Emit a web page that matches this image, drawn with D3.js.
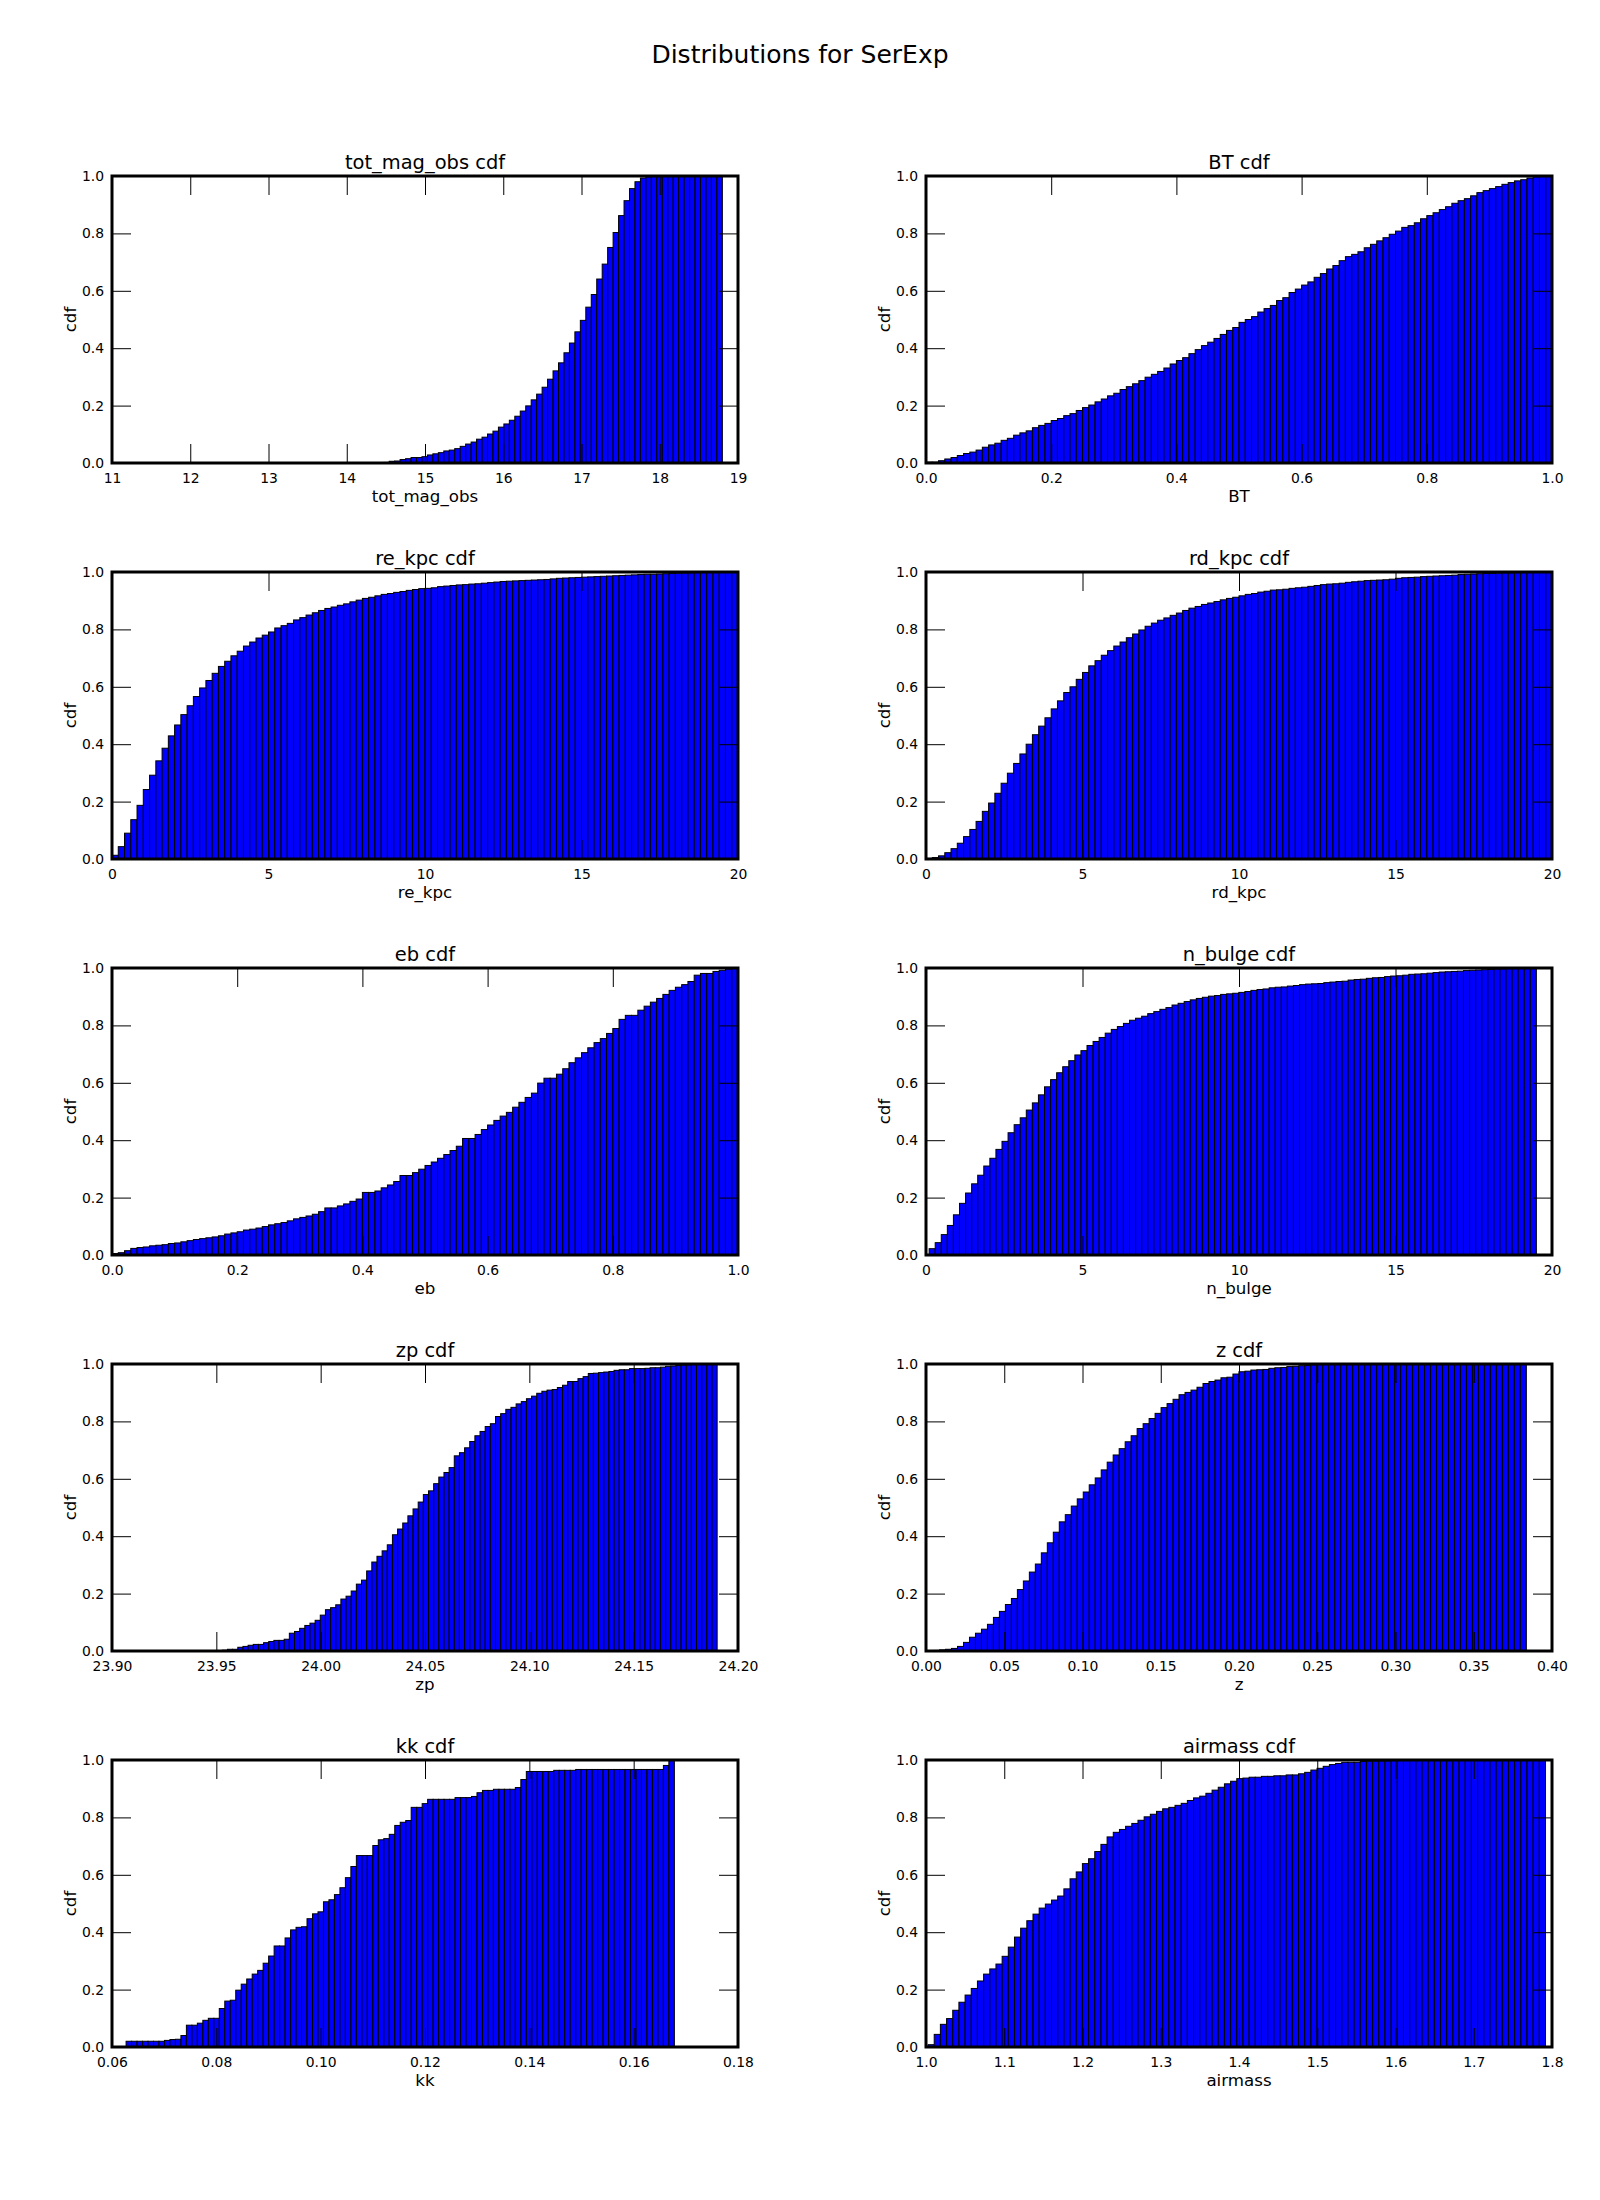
<!DOCTYPE html>
<html>
<head>
<meta charset="utf-8">
<script src="https://cdn.jsdelivr.net/npm/d3@7/dist/d3.min.js"></script>
<style>
  html, body { margin: 0; padding: 0; background: #ffffff; }
  svg { display: block; font-family: "DejaVu Sans", sans-serif; }
</style>
</head>
<body>
<svg id="chart" width="1600" height="2200"></svg>
<script>
// ---------------- DATA ----------------
const figureTitle = "Distributions for SerExp";
const variables = ["tot_mag_obs", "BT", "re_kpc", "rd_kpc", "eb", "n_bulge", "zp", "z", "kk", "airmass"];
const yLabel = "cdf";

// data range covered by the 100 histogram bins of each variable
const binStart = [11.82, 0.0, 0.0, 0.0, 0.0, 0.1, 23.943, 0.001, 0.0627, 1.0026];
const binEnd   = [18.80, 1.0, 20.0, 20.0, 1.0, 19.5, 24.19, 0.3836, 0.1678, 1.7917];

// x axis limits
const xDomains = [[11, 19], [0, 1], [0, 20], [0, 20], [0, 1], [0, 20], [23.90, 24.20], [0, 0.40], [0.06, 0.18], [1.0, 1.8]];

// tick labels
const xTickLabels = [
  ["11", "12", "13", "14", "15", "16", "17", "18", "19"],
  ["0.0", "0.2", "0.4", "0.6", "0.8", "1.0"],
  ["0", "5", "10", "15", "20"],
  ["0", "5", "10", "15", "20"],
  ["0.0", "0.2", "0.4", "0.6", "0.8", "1.0"],
  ["0", "5", "10", "15", "20"],
  ["23.90", "23.95", "24.00", "24.05", "24.10", "24.15", "24.20"],
  ["0.00", "0.05", "0.10", "0.15", "0.20", "0.25", "0.30", "0.35", "0.40"],
  ["0.06", "0.08", "0.10", "0.12", "0.14", "0.16", "0.18"],
  ["1.0", "1.1", "1.2", "1.3", "1.4", "1.5", "1.6", "1.7", "1.8"]
];
const yTickLabels = ["0.0", "0.2", "0.4", "0.6", "0.8", "1.0"];

// cumulative normalised histogram values (100 bins each)
const totMagObsCdf = [
  0,0,0,0,0,0,0,0,0,0, 0,0,0,0,0,0,0,0,0,0, 0,0,0,0,0,0,0,0,0,0, 0,0,0,0,0,0,0,0.001,0.002,
  0.006,0.007,0.012,0.015,0.019,0.019,0.022,0.028,0.032,0.036,
  0.042,0.045,0.050,0.058,0.066,0.073,0.083,0.090,0.101,0.111,
  0.125,0.136,0.149,0.163,0.181,0.199,0.220,0.240,0.264,0.292,
  0.321,0.349,0.384,0.418,0.457,0.497,0.543,0.587,0.641,0.693,
  0.751,0.803,0.862,0.914,0.956,0.980,0.993,0.997,
  0.998,0.998,0.999,0.999,0.999,1,1,1,1,1,1,1,1
];
const btCdf = [
  0.003,0.003,0.008,0.014,0.019,0.026,0.033,0.038,0.045,0.055,
  0.063,0.069,0.079,0.086,0.097,0.105,0.112,0.123,0.131,0.138,
  0.148,0.155,0.165,0.172,0.183,0.193,0.202,0.213,0.223,0.234,
  0.243,0.256,0.266,0.276,0.287,0.299,0.309,0.319,0.331,0.345,
  0.357,0.367,0.381,0.395,0.409,0.421,0.434,0.448,0.462,0.472,
  0.490,0.500,0.510,0.526,0.538,0.549,0.566,0.576,0.594,0.606,
  0.620,0.631,0.647,0.660,0.676,0.688,0.705,0.719,0.727,0.736,
  0.750,0.762,0.774,0.785,0.797,0.808,0.821,0.827,0.837,0.851,
  0.862,0.872,0.883,0.893,0.905,0.914,0.921,0.931,0.942,0.949,
  0.956,0.963,0.971,0.977,0.983,0.987,0.993,0.997,0.998,1.0
];
const reKpcCdf = [
  0.013,0.043,0.090,0.137,0.187,0.242,0.292,0.342,0.386,0.429,
  0.467,0.503,0.534,0.566,0.596,0.622,0.647,0.671,0.689,0.708,
  0.724,0.742,0.756,0.770,0.780,0.791,0.805,0.813,0.821,0.833,
  0.841,0.850,0.858,0.866,0.873,0.878,0.884,0.889,0.896,0.902,
  0.908,0.912,0.917,0.922,0.925,0.929,0.932,0.936,0.939,0.942,
  0.943,0.945,0.949,0.951,0.953,0.955,0.956,0.958,0.959,0.961,
  0.963,0.965,0.967,0.968,0.969,0.970,0.971,0.972,0.973,0.974,
  0.976,0.978,0.979,0.980,0.981,0.982,0.983,0.984,0.985,0.986,
  0.987,0.988,0.989,0.990,0.991,0.992,0.992,0.993,0.994,0.995,
  0.996,0.996,0.997,0.998,0.998,0.999,0.999,1.0,1.0,1.0
];
const rdKpcCdf = [
  0.002,0.005,0.011,0.022,0.036,0.055,0.078,0.103,0.131,0.166,
  0.195,0.229,0.264,0.299,0.333,0.366,0.400,0.433,0.463,0.492,
  0.523,0.551,0.580,0.600,0.626,0.650,0.673,0.691,0.710,0.726,
  0.742,0.756,0.771,0.784,0.798,0.811,0.822,0.832,0.840,0.849,
  0.857,0.866,0.874,0.880,0.887,0.892,0.897,0.903,0.908,0.912,
  0.917,0.922,0.925,0.930,0.933,0.937,0.938,0.940,0.943,0.945,
  0.947,0.950,0.953,0.956,0.958,0.959,0.961,0.964,0.966,0.968,
  0.970,0.971,0.972,0.973,0.975,0.978,0.980,0.981,0.982,0.984,
  0.985,0.986,0.987,0.988,0.989,0.991,0.992,0.993,0.994,0.995,
  0.995,0.996,0.997,0.997,0.998,0.998,0.999,0.999,1.0,1.0
];
const ebCdf = [
  0.005,0.008,0.015,0.023,0.026,0.028,0.032,0.034,0.036,0.040,
  0.042,0.046,0.050,0.054,0.057,0.060,0.063,0.067,0.073,0.077,
  0.081,0.087,0.090,0.094,0.099,0.105,0.109,0.113,0.119,0.126,
  0.131,0.136,0.142,0.151,0.164,0.164,0.171,0.178,0.187,0.195,
  0.218,0.218,0.223,0.234,0.244,0.256,0.277,0.277,0.287,0.299,
  0.312,0.324,0.337,0.350,0.364,0.379,0.406,0.406,0.420,0.437,
  0.453,0.469,0.484,0.497,0.515,0.532,0.549,0.564,0.599,0.616,
  0.616,0.630,0.649,0.670,0.687,0.705,0.722,0.740,0.754,0.772,
  0.789,0.821,0.835,0.835,0.853,0.867,0.881,0.894,0.908,0.922,
  0.933,0.942,0.953,0.975,0.981,0.981,0.988,0.992,0.996,1.0
];
const nBulgeCdf = [
  0.022,0.043,0.071,0.103,0.140,0.180,0.216,0.248,0.278,0.310,
  0.337,0.368,0.396,0.426,0.454,0.478,0.505,0.530,0.558,0.586,
  0.611,0.635,0.656,0.677,0.697,0.712,0.730,0.744,0.758,0.773,
  0.786,0.796,0.807,0.818,0.825,0.832,0.841,0.848,0.856,0.862,
  0.871,0.877,0.883,0.889,0.894,0.898,0.902,0.904,0.908,0.910,
  0.912,0.915,0.918,0.922,0.925,0.927,0.931,0.933,0.934,0.937,
  0.939,0.942,0.944,0.945,0.946,0.949,0.951,0.953,0.954,0.958,
  0.960,0.961,0.964,0.966,0.967,0.970,0.972,0.973,0.975,0.978,
  0.979,0.980,0.982,0.984,0.986,0.987,0.988,0.989,0.991,0.992,
  0.993,0.994,0.995,0.996,0.997,0.998,0.999,1.0,1.0,1.0
];
const zpCdf = [
  0,0,0,0,
  0.003,0.006,0.006,0.013,0.016,0.020,0.023,0.023,0.029,0.033,
  0.037,0.037,0.041,0.062,0.068,0.079,0.089,0.097,0.107,0.125,
  0.144,0.151,0.161,0.181,0.191,0.209,0.233,0.247,0.279,0.310,
  0.330,0.349,0.370,0.405,0.425,0.446,0.471,0.495,0.519,0.545,
  0.558,0.583,0.606,0.622,0.639,0.680,0.691,0.708,0.730,0.750,
  0.765,0.782,0.792,0.817,0.827,0.842,0.849,0.861,0.869,0.879,
  0.888,0.898,0.905,0.909,0.911,0.918,0.926,0.939,0.939,0.949,
  0.956,0.967,0.968,0.970,0.972,0.974,0.978,0.980,0.980,0.984,
  0.984,0.984,0.985,0.987,0.987,0.989,0.992,0.993,
  0.995,0.996,0.997,0.998,0.999,1.0,1.0,1.0
];
const zCdf = [
  0.001,0.002,0.004,0.006,0.009,0.016,0.030,0.048,0.062,0.076,
  0.093,0.117,0.138,0.162,0.183,0.214,0.244,0.275,0.303,0.342,
  0.377,0.414,0.450,0.475,0.505,0.530,0.554,0.579,0.603,0.631,
  0.658,0.683,0.705,0.729,0.750,0.775,0.792,0.810,0.828,0.848,
  0.862,0.877,0.893,0.901,0.909,0.919,0.932,0.939,0.944,0.952,
  0.954,0.965,0.973,0.975,0.979,0.980,0.981,0.985,0.987,0.988,
  0.991,0.992,0.994,0.995,0.997,0.998,0.998,0.999,0.999,1.0,
  1.0,1.0,1.0,1.0,1.0,1.0,1.0,1.0,1.0,1.0,
  1.0,1.0,1.0,1.0,1.0,1.0,1.0,1.0,1.0,1.0,
  1.0,1.0,1.0,1.0,1.0,1.0,1.0,1.0,1.0,1.0
];
const kkCdf = [
  0.020,0.020,0.020,0.020,0.020,0.020,0.020,0.023,0.026,0.027,
  0.040,0.076,0.076,0.083,0.093,0.100,0.100,0.134,0.160,0.163,
  0.198,0.219,0.237,0.254,0.267,0.292,0.317,0.352,0.352,0.380,
  0.408,0.417,0.419,0.447,0.464,0.471,0.506,0.513,0.531,0.555,
  0.590,0.629,0.667,0.667,0.667,0.702,0.722,0.726,0.741,0.772,
  0.783,0.789,0.835,0.835,0.848,0.863,0.863,0.863,0.863,0.863,
  0.869,0.869,0.869,0.873,0.886,0.894,0.894,0.898,0.898,0.898,
  0.898,0.904,0.932,0.960,0.960,0.960,0.960,0.960,0.964,0.964,
  0.964,0.964,0.967,0.967,0.967,0.967,0.967,0.967,0.967,0.967,
  0.967,0.967,0.967,0.967,0.967,0.967,0.967,0.967,0.981,1.0
];
const airmassCdf = [
  0.008,0.044,0.079,0.099,0.128,0.156,0.181,0.204,0.230,0.254,
  0.272,0.289,0.316,0.348,0.383,0.414,0.440,0.463,0.484,0.498,
  0.512,0.526,0.551,0.586,0.610,0.639,0.656,0.681,0.706,0.732,
  0.748,0.758,0.769,0.779,0.790,0.802,0.811,0.821,0.830,0.835,
  0.842,0.849,0.859,0.868,0.874,0.884,0.895,0.905,0.917,0.926,
  0.935,0.937,0.940,0.940,0.943,0.943,0.945,0.945,0.948,0.948,
  0.952,0.957,0.965,0.971,0.978,0.984,0.988,0.992,0.992,0.992,
  0.995,0.996,0.996,0.997,0.997,0.998,0.998,0.999,1.0,1.0,
  1.0,1.0,1.0,1.0,1.0,1.0,1.0,1.0,1.0,1.0,
  1.0,1.0,1.0,1.0,1.0,1.0,1.0,1.0,1.0,1.0
];
const cdfSeries = [totMagObsCdf, btCdf, reKpcCdf, rdKpcCdf, ebCdf, nBulgeCdf, zpCdf, zCdf, kkCdf, airmassCdf];

// ---------------- LAYOUT ----------------
const colLeft = [112, 926];
const rowTop0 = 176, rowStep = 396;
const axW = 626, axH = 287;
const tickLen = 19;

const svg = d3.select("#chart");
svg.append("rect").attr("width", 1600).attr("height", 2200).attr("fill", "#ffffff");

svg.append("text")
  .attr("x", 800).attr("y", 63)
  .attr("text-anchor", "middle")
  .attr("font-size", "25px")
  .attr("fill", "#000")
  .text(figureTitle);

variables.forEach((name, idx) => {
  const col = idx % 2, row = Math.floor(idx / 2);
  const g = svg.append("g").attr("transform", `translate(${colLeft[col]},${rowTop0 + row * rowStep})`);

  const x = d3.scaleLinear().domain(xDomains[idx]).range([0, axW]);
  const y = d3.scaleLinear().domain([0, 1]).range([axH, 0]);
  const vals = cdfSeries[idx];
  const n = vals.length;
  const bw = (binEnd[idx] - binStart[idx]) / n;

  const clip = g.append("clipPath").attr("id", "clip" + idx)
    .append("rect").attr("width", axW).attr("height", axH);

  // bars
  g.append("g").attr("clip-path", `url(#clip${idx})`)
    .selectAll("rect").data(vals).join("rect")
    .attr("x", (d, i) => x(binStart[idx] + i * bw))
    .attr("width", (d, i) => x(binStart[idx] + (i + 1) * bw) - x(binStart[idx] + i * bw))
    .attr("y", d => y(d))
    .attr("height", d => axH - y(d))
    .attr("fill", "#0000ff")
    .attr("stroke", "#000")
    .attr("stroke-width", 1);

  const xTickVals = xTickLabels[idx].map(Number);
  const yTickVals = yTickLabels.map(Number);

  const styleAxis = sel => {
    sel.select(".domain").remove();
    sel.selectAll(".tick line").attr("stroke", "#000").attr("stroke-width", 1);
    sel.selectAll(".tick text").attr("fill", "#000").attr("font-size", "13.9px")
      .attr("font-family", "DejaVu Sans, sans-serif");
  };

  g.append("g").attr("transform", `translate(0,${axH})`)
    .call(d3.axisBottom(x).tickValues(xTickVals).tickFormat((d, i) => xTickLabels[idx][i])
      .tickSize(-tickLen).tickPadding(10))
    .call(styleAxis);
  g.append("g")
    .call(d3.axisTop(x).tickValues(xTickVals).tickFormat("").tickSize(-tickLen))
    .call(styleAxis);
  g.append("g")
    .call(d3.axisLeft(y).tickValues(yTickVals).tickFormat((d, i) => yTickLabels[i])
      .tickSize(-tickLen).tickPadding(8))
    .call(styleAxis);
  g.append("g").attr("transform", `translate(${axW},0)`)
    .call(d3.axisRight(y).tickValues(yTickVals).tickFormat("").tickSize(-tickLen))
    .call(styleAxis);

  // frame
  g.append("rect").attr("width", axW).attr("height", axH)
    .attr("fill", "none").attr("stroke", "#000").attr("stroke-width", 3);

  // title and labels
  g.append("text").attr("x", axW / 2).attr("y", -7)
    .attr("text-anchor", "middle").attr("font-size", "19.44px").attr("fill", "#000")
    .text(name + " cdf");
  g.append("text").attr("x", axW / 2).attr("y", axH + 39)
    .attr("text-anchor", "middle").attr("font-size", "16.67px").attr("fill", "#000")
    .text(name);
  g.append("text").attr("transform", `translate(-36,${axH / 2}) rotate(-90)`)
    .attr("text-anchor", "middle").attr("font-size", "16.67px").attr("fill", "#000")
    .text(yLabel);
});
</script>
</body>
</html>
